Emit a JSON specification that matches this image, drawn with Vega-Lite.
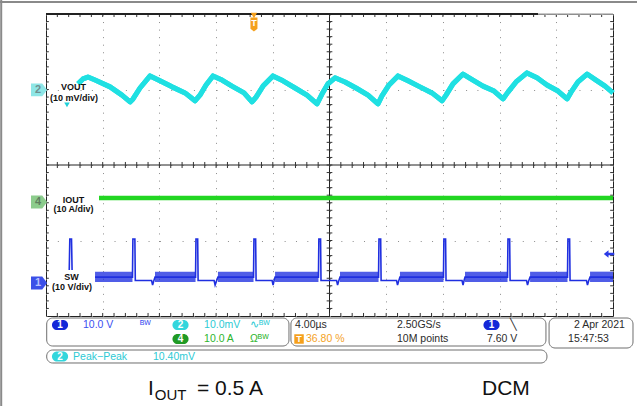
{
  "$schema": "https://vega.github.io/schema/vega-lite/v6.json",
  "width": 567,
  "height": 302,
  "autosize": {"type": "none"},
  "padding": {"left": 46, "top": 14, "right": 24, "bottom": 90},
  "background": "white",
  "config": {"view": {"stroke": "#222222", "strokeWidth": 1}},
  "data": {"values": [{"k": 0}]},
  "resolve": {"scale": {"color": "independent"}},
  "datasets": {
    "vout": [
      {"t":2.26,"v":6.15},{"t":2.61,"v":6.28},{"t":2.96,"v":6.33},{"t":3.46,"v":6.25},{"t":4.52,"v":6.07},{"t":5.36,"v":5.85},{"t":5.93,"v":5.67},{"t":6.14,"v":5.75},{"t":6.63,"v":6.04},{"t":7.34,"v":6.36},{"t":8.04,"v":6.23},{"t":8.89,"v":6.07},{"t":9.81,"v":5.91},{"t":10.51,"v":5.70},{"t":10.86,"v":5.85},{"t":11.29,"v":6.12},{"t":11.78,"v":6.36},{"t":12.42,"v":6.25},{"t":13.12,"v":6.09},{"t":13.97,"v":5.91},{"t":14.53,"v":5.67},{"t":14.82,"v":5.80},{"t":15.31,"v":6.09},{"t":16.01,"v":6.36},{"t":16.72,"v":6.23},{"t":17.57,"v":6.04},{"t":18.41,"v":5.85},{"t":19.12,"v":5.62},{"t":19.47,"v":5.88},{"t":19.89,"v":6.15},{"t":20.39,"v":6.31},{"t":21.09,"v":6.20},{"t":21.87,"v":6.04},{"t":22.72,"v":5.85},{"t":23.42,"v":5.62},{"t":23.70,"v":5.83},{"t":24.20,"v":6.12},{"t":24.83,"v":6.36},{"t":25.54,"v":6.23},{"t":26.38,"v":6.07},{"t":27.23,"v":5.91},{"t":27.94,"v":5.70},{"t":28.22,"v":5.85},{"t":28.71,"v":6.15},{"t":29.42,"v":6.41},{"t":30.12,"v":6.25},{"t":30.83,"v":6.09},{"t":31.61,"v":5.96},{"t":32.24,"v":5.75},{"t":32.59,"v":5.93},{"t":33.16,"v":6.20},{"t":33.93,"v":6.44},{"t":34.64,"v":6.31},{"t":35.34,"v":6.12},{"t":36.12,"v":5.96},{"t":36.76,"v":5.75},{"t":37.04,"v":5.93},{"t":37.53,"v":6.20},{"t":38.17,"v":6.41},{"t":38.80,"v":6.25},{"t":39.44,"v":6.09},{"t":40.0,"v":5.91}
    ],
    "iout": [{"t":3.74,"v":3.126},{"t":40.0,"v":3.126}],
    "sw": [
      {"s":"pre","t":1.64,"v":1.22},{"s":"pre","t":1.68,"v":2.04},{"s":"pre","t":1.80,"v":2.04},{"s":"pre","t":1.84,"v":1.22},
      {"s":"main","t":3.46,"v":1.03},{"s":"main","t":6.10,"v":1.03},{"s":"main","t":6.13,"v":2.04},{"s":"main","t":6.27,"v":2.04},{"s":"main","t":6.30,"v":0.94},{"s":"main","t":7.45,"v":0.94},{"s":"main","t":7.52,"v":0.82},{"s":"main","t":7.62,"v":0.95},{"s":"main","t":7.69,"v":1.03},
      {"s":"main","t":10.55,"v":1.03},{"s":"main","t":10.58,"v":2.04},{"s":"main","t":10.70,"v":2.04},{"s":"main","t":10.73,"v":0.94},{"s":"main","t":11.86,"v":0.94},{"s":"main","t":11.93,"v":0.82},{"s":"main","t":12.05,"v":0.95},{"s":"main","t":12.13,"v":1.03},
      {"s":"main","t":14.64,"v":1.03},{"s":"main","t":14.67,"v":2.04},{"s":"main","t":14.79,"v":2.04},{"s":"main","t":14.82,"v":0.94},{"s":"main","t":15.95,"v":0.94},{"s":"main","t":16.02,"v":0.82},{"s":"main","t":16.10,"v":0.95},{"s":"main","t":16.16,"v":1.03},
      {"s":"main","t":19.22,"v":1.03},{"s":"main","t":19.25,"v":2.04},{"s":"main","t":19.37,"v":2.04},{"s":"main","t":19.40,"v":0.94},{"s":"main","t":20.50,"v":0.94},{"s":"main","t":20.57,"v":0.82},{"s":"main","t":20.67,"v":0.95},{"s":"main","t":20.74,"v":1.03},
      {"s":"main","t":23.46,"v":1.03},{"s":"main","t":23.49,"v":2.04},{"s":"main","t":23.61,"v":2.04},{"s":"main","t":23.64,"v":0.94},{"s":"main","t":24.73,"v":0.94},{"s":"main","t":24.80,"v":0.82},{"s":"main","t":24.90,"v":0.95},{"s":"main","t":24.97,"v":1.03},
      {"s":"main","t":28.04,"v":1.03},{"s":"main","t":28.07,"v":2.04},{"s":"main","t":28.19,"v":2.04},{"s":"main","t":28.22,"v":0.94},{"s":"main","t":29.35,"v":0.94},{"s":"main","t":29.42,"v":0.82},{"s":"main","t":29.50,"v":0.95},{"s":"main","t":29.56,"v":1.03},
      {"s":"main","t":32.56,"v":1.03},{"s":"main","t":32.59,"v":2.04},{"s":"main","t":32.71,"v":2.04},{"s":"main","t":32.74,"v":0.94},{"s":"main","t":33.90,"v":0.94},{"s":"main","t":33.97,"v":0.82},{"s":"main","t":34.07,"v":0.95},{"s":"main","t":34.15,"v":1.03},
      {"s":"main","t":36.79,"v":1.03},{"s":"main","t":36.82,"v":2.04},{"s":"main","t":36.94,"v":2.04},{"s":"main","t":36.97,"v":0.94},{"s":"main","t":38.13,"v":0.94},{"s":"main","t":38.20,"v":0.82},{"s":"main","t":38.30,"v":0.95},{"s":"main","t":38.38,"v":1.03},
      {"s":"main","t":40.0,"v":1.03}
    ],
    "swband": [
      {"t":3.46,"t2":6.10,"v":0.90,"v2":1.175},{"t":7.69,"t2":10.55,"v":0.90,"v2":1.175},{"t":12.13,"t2":14.64,"v":0.90,"v2":1.175},{"t":16.16,"t2":19.22,"v":0.90,"v2":1.175},{"t":20.74,"t2":23.46,"v":0.90,"v2":1.175},{"t":24.97,"t2":28.04,"v":0.90,"v2":1.175},{"t":29.56,"t2":32.56,"v":0.90,"v2":1.175},{"t":34.15,"t2":36.79,"v":0.90,"v2":1.175},{"t":38.38,"t2":40.0,"v":0.90,"v2":1.175}
    ],
    "xt": [{"t":0.8},{"t":1.6},{"t":2.4},{"t":3.2},{"t":4},{"t":4.8},{"t":5.6},{"t":6.4},{"t":7.2},{"t":8},{"t":8.8},{"t":9.6},{"t":10.4},{"t":11.2},{"t":12},{"t":12.8},{"t":13.6},{"t":14.4},{"t":15.2},{"t":16},{"t":16.8},{"t":17.6},{"t":18.4},{"t":19.2},{"t":20},{"t":20.8},{"t":21.6},{"t":22.4},{"t":23.2},{"t":24},{"t":24.8},{"t":25.6},{"t":26.4},{"t":27.2},{"t":28},{"t":28.8},{"t":29.6},{"t":30.4},{"t":31.2},{"t":32},{"t":32.8},{"t":33.6},{"t":34.4},{"t":35.2},{"t":36},{"t":36.8},{"t":37.6},{"t":38.4},{"t":39.2}],
    "yt": [{"v":0.2},{"v":0.4},{"v":0.6},{"v":0.8},{"v":1},{"v":1.2},{"v":1.4},{"v":1.6},{"v":1.8},{"v":2},{"v":2.2},{"v":2.4},{"v":2.6},{"v":2.8},{"v":3},{"v":3.2},{"v":3.4},{"v":3.6},{"v":3.8},{"v":4},{"v":4.2},{"v":4.4},{"v":4.6},{"v":4.8},{"v":5},{"v":5.2},{"v":5.4},{"v":5.6},{"v":5.8},{"v":6},{"v":6.2},{"v":6.4},{"v":6.6},{"v":6.8},{"v":7},{"v":7.2},{"v":7.4},{"v":7.6},{"v":7.8}],
    "chmark": [{"t":-0.49,"v":5.99,"ch":"2"},{"t":-0.49,"v":3.02,"ch":"4"},{"t":-0.49,"v":0.874,"ch":"1"}],
    "tags": [
      {"t":1.94,"v":6.066,"text":"VOUT"},{"t":1.97,"v":5.775,"text":"(10 mV/div)"},
      {"t":1.94,"v":3.073,"text":"IOUT"},{"t":1.94,"v":2.834,"text":"(10 A/div)"},
      {"t":1.80,"v":1.033,"text":"SW"},{"t":1.83,"v":0.768,"text":"(10 V/div)"}
    ],
    "boxes": [
      {"t":0.05,"t2":17.14,"v":-0.053,"v2":-0.795},
      {"t":17.28,"t2":35.27,"v":-0.053,"v2":-0.795},
      {"t":35.49,"t2":41.41,"v":-0.053,"v2":-0.848},
      {"t":0.05,"t2":35.34,"v":-0.901,"v2":-1.245}
    ],
    "pills": [
      {"t":0.99,"v":-0.238,"ch":"1","text":"1"},
      {"t":9.49,"v":-0.238,"ch":"2","text":"2"},
      {"t":9.49,"v":-0.609,"ch":"4","text":"4"},
      {"t":31.43,"v":-0.238,"ch":"1","text":"1"},
      {"t":0.99,"v":-1.073,"ch":"2","text":"2"}
    ],
    "stat": [
      {"t":2.61,"v":-0.238,"text":"10.0 V","ch":"1"},
      {"t":6.63,"v":-0.238,"text":"ᴮᵂ","ch":"1"},
      {"t":11.15,"v":-0.238,"text":"10.0mV","ch":"2"},
      {"t":14.39,"v":-0.238,"text":"∿ᴮᵂ","ch":"2"},
      {"t":11.15,"v":-0.609,"text":"10.0 A","ch":"4"},
      {"t":14.39,"v":-0.609,"text":"Ωᴮᵂ","ch":"4"},
      {"t":17.57,"v":-0.238,"text":"4.00µs","ch":"scope"},
      {"t":18.34,"v":-0.609,"text":"36.80 %","ch":"trig"},
      {"t":24.76,"v":-0.238,"text":"2.50GS/s","ch":"scope"},
      {"t":24.76,"v":-0.609,"text":"10M points","ch":"scope"},
      {"t":32.73,"v":-0.238,"text":"╲","ch":"scope"},
      {"t":31.11,"v":-0.609,"text":"7.60 V","ch":"scope"},
      {"t":37.25,"v":-0.238,"text":"2 Apr  2021","ch":"scope"},
      {"t":36.83,"v":-0.609,"text":"15:47:53","ch":"scope"},
      {"t":1.91,"v":-1.073,"text":"Peak−Peak","ch":"2"},
      {"t":7.55,"v":-1.073,"text":"10.40mV","ch":"2"}
    ],
    "trig": [{"t":17.85,"v":-0.609,"text":"T"}],
    "tmark": [{"t":14.67,"v":7.722,"text":"T"}],
    "tmtop": [{"t":14.67,"v":7.96}],
    "cap": [{"t":7.20,"v":-2.093,"text":"I"},{"t":10.65,"v":-2.093,"text":"= 0.5 A"},{"t":30.76,"v":-2.105,"text":"DCM"}],
    "capsub": [{"t":7.68,"v":-2.225,"text":"OUT"}],
    "lvl": [{"t":39.72,"v":1.642}],
    "vref": [{"t":1.48,"v":5.59}]
  },
  "layer": [
    {
      "data": {"name": "vout"},
      "mark": {"type": "line", "color": "#1fe0e2", "strokeWidth": 5, "strokeJoin": "round"},
      "encoding": {
        "x": {"field": "t", "type": "quantitative", "scale": {"domain": [0, 40], "nice": false, "zero": false},
              "axis": {"values": [0,4,8,12,16,20,24,28,32,36,40], "grid": true, "gridDash": [1, 6.55], "gridColor": "#8c8c8c", "ticks": false, "labels": false, "domain": false, "title": null}},
        "y": {"field": "v", "type": "quantitative", "scale": {"domain": [0, 8], "nice": false, "zero": false},
              "axis": {"values": [0,1,2,3,4,5,6,7,8], "grid": true, "gridDash": [1, 10.34], "gridColor": "#8c8c8c", "ticks": false, "labels": false, "domain": false, "title": null}}
      }
    },
    {"mark": {"type": "rule", "color": "#222222", "strokeWidth": 1}, "encoding": {"x": {"datum": 20}}},
    {"mark": {"type": "rule", "color": "#222222", "strokeWidth": 1}, "encoding": {"y": {"datum": 4}}},
    {"data": {"name": "xt"}, "mark": {"type": "rule", "color": "#333333"}, "encoding": {"x": {"field": "t", "type": "quantitative"}, "y": {"datum": 3.92}, "y2": {"datum": 4.08}}},
    {"data": {"name": "xt"}, "mark": {"type": "rule", "color": "#333333"}, "encoding": {"x": {"field": "t", "type": "quantitative"}, "y": {"datum": 0}, "y2": {"datum": 0.08}}},
    {"data": {"name": "xt"}, "mark": {"type": "rule", "color": "#333333"}, "encoding": {"x": {"field": "t", "type": "quantitative"}, "y": {"datum": 7.92}, "y2": {"datum": 8}}},
    {"data": {"name": "yt"}, "mark": {"type": "rule", "color": "#333333"}, "encoding": {"y": {"field": "v", "type": "quantitative"}, "x": {"datum": 19.8}, "x2": {"datum": 20.2}}},
    {"data": {"name": "yt"}, "mark": {"type": "rule", "color": "#333333"}, "encoding": {"y": {"field": "v", "type": "quantitative"}, "x": {"datum": 0}, "x2": {"datum": 0.2}}},
    {"data": {"name": "yt"}, "mark": {"type": "rule", "color": "#333333"}, "encoding": {"y": {"field": "v", "type": "quantitative"}, "x": {"datum": 39.8}, "x2": {"datum": 40}}},
    {"mark": {"type": "rule", "color": "#222222", "strokeWidth": 2}, "encoding": {"x": {"datum": 0}, "x2": {"datum": 34.71}, "y": {"datum": 8}}},
    {"mark": {"type": "rule", "color": "#b4b4b4", "strokeWidth": 1.5}, "encoding": {"x": {"datum": 34.71}, "x2": {"datum": 40}, "y": {"datum": 8}}},
    {"mark": {"type": "rule", "color": "#8a8a8a", "strokeWidth": 2}, "encoding": {"x": {"datum": -3.16}, "y": {"datum": 8.37}, "y2": {"datum": -2.39}}},
    {"mark": {"type": "rule", "color": "#8a8a8a", "strokeWidth": 2}, "encoding": {"y": {"datum": 8.318}, "x": {"datum": -3.25}, "x2": {"datum": 41.7}}},
    {
      "data": {"name": "vout"},
      "mark": {"type": "line", "color": "#1fe0e2", "strokeWidth": 5, "strokeJoin": "round"},
      "encoding": {"x": {"field": "t", "type": "quantitative"}, "y": {"field": "v", "type": "quantitative"}}
    },
    {
      "data": {"name": "iout"},
      "mark": {"type": "line", "color": "#22d622", "strokeWidth": 4.5},
      "encoding": {"x": {"field": "t", "type": "quantitative"}, "y": {"field": "v", "type": "quantitative"}}
    },
    {
      "data": {"name": "swband"},
      "mark": {"type": "rect", "color": "#1f2fe0", "opacity": 0.78},
      "encoding": {"x": {"field": "t", "type": "quantitative"}, "x2": {"field": "t2"}, "y": {"field": "v", "type": "quantitative"}, "y2": {"field": "v2"}}
    },
    {
      "data": {"name": "sw"},
      "mark": {"type": "line", "color": "#1f2fe0", "strokeWidth": 1.6},
      "encoding": {"x": {"field": "t", "type": "quantitative"}, "y": {"field": "v", "type": "quantitative"}, "detail": {"field": "s"}}
    },
    {
      "data": {"name": "chmark"},
      "mark": {"type": "point", "filled": true, "opacity": 1, "size": 260, "shape": "M-1,-0.8 L0.4,-0.8 L1,0 L0.4,0.8 L-1,0.8 Z"},
      "encoding": {"x": {"field": "t", "type": "quantitative"}, "y": {"field": "v", "type": "quantitative"},
        "color": {"field": "ch", "type": "nominal", "legend": null, "scale": {"domain": ["1", "2", "4"], "range": ["#3c50e8", "#8ee6e6", "#8ccc8c"]}}}
    },
    {
      "data": {"name": "chmark"},
      "mark": {"type": "text", "font": "Liberation Sans", "fontSize": 11, "fontWeight": "bold", "dx": -1, "align": "center", "baseline": "middle"},
      "encoding": {"x": {"field": "t", "type": "quantitative"}, "y": {"field": "v", "type": "quantitative"}, "text": {"field": "ch"},
        "color": {"field": "ch", "type": "nominal", "legend": null, "scale": {"domain": ["1", "2", "4"], "range": ["#b8c0ff", "#6f9090", "#5f7f5f"]}}}
    },
    {
      "data": {"name": "tags"},
      "mark": {"type": "text", "font": "Liberation Sans", "fontSize": 9, "fontWeight": "bold", "color": "#111111", "align": "center", "baseline": "middle"},
      "encoding": {"x": {"field": "t", "type": "quantitative"}, "y": {"field": "v", "type": "quantitative"}, "text": {"field": "text"}}
    },
    {
      "data": {"name": "vref"},
      "mark": {"type": "point", "shape": "triangle-down", "filled": true, "opacity": 1, "size": 30, "color": "#1fd0d8"},
      "encoding": {"x": {"field": "t", "type": "quantitative"}, "y": {"field": "v", "type": "quantitative"}}
    },
    {
      "data": {"name": "tmtop"},
      "mark": {"type": "point", "shape": "triangle-down", "filled": true, "opacity": 1, "size": 40, "color": "#f5a01c"},
      "encoding": {"x": {"field": "t", "type": "quantitative"}, "y": {"field": "v", "type": "quantitative"}}
    },
    {
      "data": {"name": "tmark"},
      "mark": {"type": "point", "shape": "M-0.5,-1 L0.5,-1 L0.5,0.6 L0,1 L-0.5,0.6 Z", "filled": true, "opacity": 1, "size": 196, "color": "#f5a01c"},
      "encoding": {"x": {"field": "t", "type": "quantitative"}, "y": {"field": "v", "type": "quantitative"}}
    },
    {
      "data": {"name": "tmark"},
      "mark": {"type": "text", "font": "Liberation Sans", "fontSize": 9, "fontWeight": "bold", "color": "white", "align": "center", "baseline": "middle", "dy": -1},
      "encoding": {"x": {"field": "t", "type": "quantitative"}, "y": {"field": "v", "type": "quantitative"}, "text": {"field": "text"}}
    },
    {
      "data": {"name": "lvl"},
      "mark": {"type": "point", "shape": "M-1,0 L-0.1,-0.7 L-0.1,-0.25 L1,-0.25 L1,0.25 L-0.1,0.25 L-0.1,0.7 Z", "filled": true, "opacity": 1, "size": 110, "color": "#2a3ae6"},
      "encoding": {"x": {"field": "t", "type": "quantitative"}, "y": {"field": "v", "type": "quantitative"}}
    },
    {
      "data": {"name": "boxes"},
      "mark": {"type": "rect", "filled": false, "color": "#6e6e6e", "strokeWidth": 1, "cornerRadius": 6},
      "encoding": {"x": {"field": "t", "type": "quantitative"}, "x2": {"field": "t2"}, "y": {"field": "v", "type": "quantitative"}, "y2": {"field": "v2"}}
    },
    {
      "data": {"name": "pills"},
      "mark": {"type": "point", "filled": true, "opacity": 1, "size": 300, "shape": "M-0.35,-0.58 L0.35,-0.58 A0.58,0.58 0 0 1 0.35,0.58 L-0.35,0.58 A0.58,0.58 0 0 1 -0.35,-0.58 Z"},
      "encoding": {"x": {"field": "t", "type": "quantitative"}, "y": {"field": "v", "type": "quantitative"},
        "color": {"field": "ch", "type": "nominal", "legend": null, "scale": {"domain": ["1", "2", "4"], "range": ["#1428d8", "#33d6dc", "#1f9a24"]}}}
    },
    {
      "data": {"name": "pills"},
      "mark": {"type": "text", "font": "Liberation Sans", "fontSize": 10, "fontWeight": "bold", "color": "white", "align": "center", "baseline": "middle"},
      "encoding": {"x": {"field": "t", "type": "quantitative"}, "y": {"field": "v", "type": "quantitative"}, "text": {"field": "text"}}
    },
    {
      "data": {"name": "trig"},
      "mark": {"type": "point", "shape": "square", "filled": true, "opacity": 1, "size": 90, "color": "#f5a01c"},
      "encoding": {"x": {"field": "t", "type": "quantitative"}, "y": {"field": "v", "type": "quantitative"}}
    },
    {
      "data": {"name": "trig"},
      "mark": {"type": "text", "font": "Liberation Sans", "fontSize": 9, "fontWeight": "bold", "color": "white", "align": "center", "baseline": "middle"},
      "encoding": {"x": {"field": "t", "type": "quantitative"}, "y": {"field": "v", "type": "quantitative"}, "text": {"field": "text"}}
    },
    {
      "data": {"name": "stat"},
      "mark": {"type": "text", "font": "Liberation Sans", "fontSize": 10.5, "align": "left", "baseline": "middle"},
      "encoding": {"x": {"field": "t", "type": "quantitative"}, "y": {"field": "v", "type": "quantitative"}, "text": {"field": "text"},
        "color": {"field": "ch", "type": "nominal", "legend": null, "scale": {"domain": ["1", "2", "4", "trig", "scope"], "range": ["#3a4ff0", "#2ccad4", "#2db52d", "#f5a21e", "#2a2a2a"]}}}
    },
    {
      "data": {"name": "cap"},
      "mark": {"type": "text", "font": "Liberation Sans", "fontSize": 21, "color": "#111111", "align": "left", "baseline": "alphabetic"},
      "encoding": {"x": {"field": "t", "type": "quantitative"}, "y": {"field": "v", "type": "quantitative"}, "text": {"field": "text"}}
    },
    {
      "data": {"name": "capsub"},
      "mark": {"type": "text", "font": "Liberation Sans", "fontSize": 15, "color": "#111111", "align": "left", "baseline": "alphabetic"},
      "encoding": {"x": {"field": "t", "type": "quantitative"}, "y": {"field": "v", "type": "quantitative"}, "text": {"field": "text"}}
    }
  ]
}
